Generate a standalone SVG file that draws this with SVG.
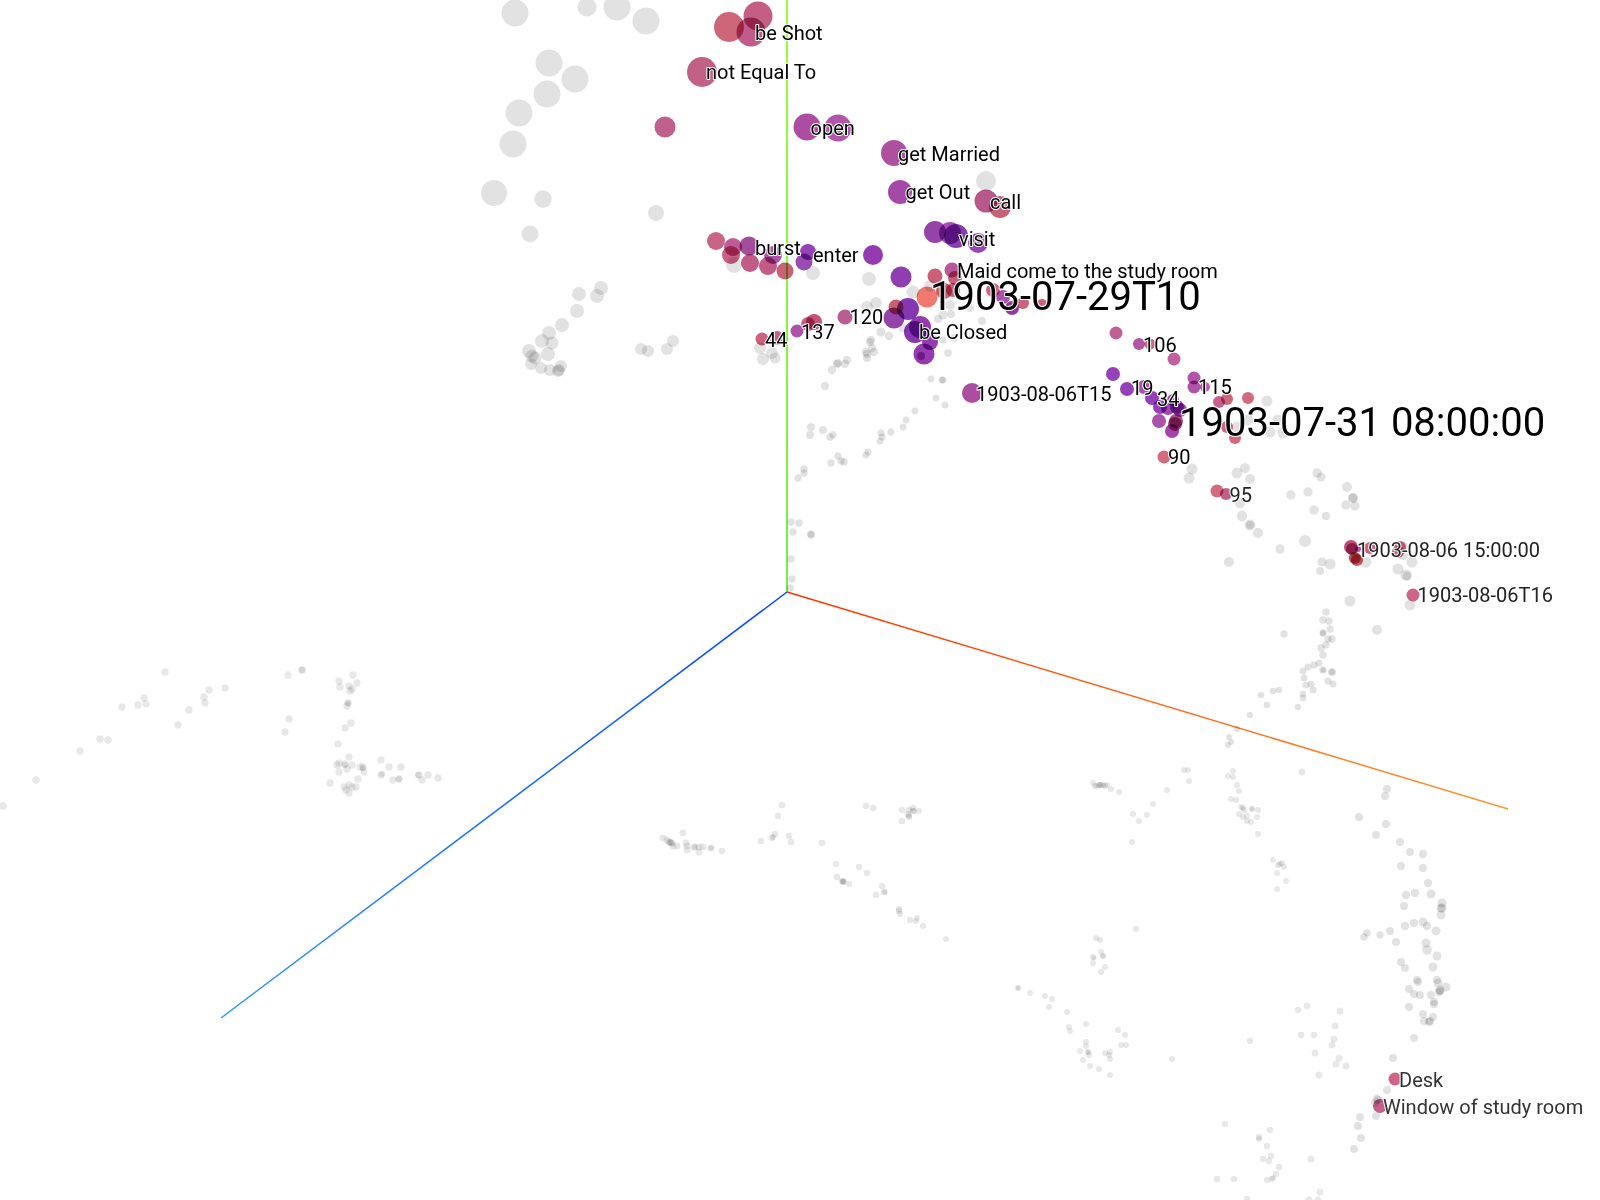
<svg xmlns="http://www.w3.org/2000/svg" width="1600" height="1200" viewBox="0 0 1600 1200">
<style>
circle{mix-blend-mode:multiply}
.g circle{fill:#e2e2e2}
.f circle{fill:#e8e8e8}
#points circle{fill-opacity:.9}
.lb{font-family:Roboto,"Liberation Sans",sans-serif;font-size:20px;fill:#000;stroke:#fff;stroke-width:2px;paint-order:stroke;stroke-linejoin:round}
.big{font-size:40px}
.d1{fill:#222}
.d2{fill:#333}
</style>
<defs>
<linearGradient id="gy" gradientUnits="userSpaceOnUse" x1="787" y1="592" x2="787" y2="0"><stop offset="0" stop-color="#70f048"/><stop offset="1" stop-color="#99ff33"/></linearGradient>
<linearGradient id="gx" gradientUnits="userSpaceOnUse" x1="787" y1="592" x2="1508" y2="809"><stop offset="0" stop-color="#ff3300"/><stop offset="1" stop-color="#ff9933"/></linearGradient>
<linearGradient id="gz" gradientUnits="userSpaceOnUse" x1="787" y1="592" x2="221" y2="1018"><stop offset="0" stop-color="#0044ff"/><stop offset="1" stop-color="#3399ff"/></linearGradient>
</defs>
<rect width="1600" height="1200" fill="#fff"/>
<g id="connectors" fill="none" stroke-width="1.5">
<line x1="787" y1="592" x2="787.01" y2="0" stroke="url(#gy)" stroke-width="2"/>
<line x1="787" y1="592" x2="1508" y2="809" stroke="url(#gx)"/>
<line x1="787" y1="592" x2="221" y2="1018" stroke="url(#gz)"/>
</g>
<g id="background-points-near" class="g">
<circle cx="515" cy="13" r="13.5"/><circle cx="587" cy="7" r="9.5"/><circle cx="617" cy="7" r="13.5"/><circle cx="646" cy="21" r="13.5"/><circle cx="549" cy="63" r="13.5"/><circle cx="575" cy="79" r="13.5"/><circle cx="547" cy="94" r="13.5"/><circle cx="519" cy="113" r="13.5"/><circle cx="513" cy="144" r="13.5"/><circle cx="494" cy="193" r="13"/><circle cx="543" cy="199" r="8.7"/><circle cx="530" cy="234" r="8.5"/><circle cx="656" cy="213" r="8"/><circle cx="986" cy="181" r="10"/>
<circle cx="734" cy="265" r="8"/><circle cx="813" cy="273" r="7"/><circle cx="869" cy="279" r="7"/>
<circle cx="579" cy="294" r="7"/><circle cx="601" cy="288" r="7"/><circle cx="597" cy="296" r="7"/><circle cx="577" cy="311" r="7"/><circle cx="562" cy="325" r="7"/><circle cx="549" cy="333" r="7"/><circle cx="542" cy="341" r="7"/><circle cx="552" cy="343" r="6.5"/><circle cx="529" cy="351" r="7"/><circle cx="548" cy="354" r="7"/><circle cx="532" cy="356" r="6.5"/><circle cx="535" cy="358" r="6.5"/><circle cx="531" cy="364" r="6"/><circle cx="541" cy="368" r="6"/><circle cx="550" cy="370" r="6"/><circle cx="561" cy="366" r="6"/><circle cx="558" cy="371" r="6"/><circle cx="559" cy="370" r="6"/>
<circle cx="641" cy="349" r="6"/><circle cx="648" cy="351" r="6"/><circle cx="667" cy="349" r="6"/><circle cx="673" cy="341" r="6"/><circle cx="760" cy="348" r="6"/><circle cx="772" cy="353" r="6"/><circle cx="763" cy="359" r="6"/><circle cx="775" cy="358" r="5.5"/>
<circle cx="867" cy="307" r="6"/><circle cx="876" cy="303" r="6"/><circle cx="913" cy="292" r="6.5"/><circle cx="930" cy="286" r="6"/>
<circle cx="943" cy="315" r="4.5"/><circle cx="951" cy="314" r="4"/><circle cx="950" cy="305" r="5"/><circle cx="970" cy="308" r="4"/><circle cx="982" cy="321" r="4"/><circle cx="938" cy="319" r="4"/><circle cx="903" cy="328" r="4.5"/><circle cx="881" cy="332" r="4.5"/><circle cx="889" cy="336" r="4.2"/><circle cx="871" cy="340" r="4.2"/><circle cx="870" cy="342" r="4"/><circle cx="872" cy="348" r="4.2"/><circle cx="866" cy="352" r="4.2"/><circle cx="867" cy="354" r="4.2"/><circle cx="874" cy="352" r="4.2"/><circle cx="867" cy="358" r="4"/><circle cx="847" cy="360" r="4"/><circle cx="838" cy="363" r="4.2"/><circle cx="837" cy="364" r="4"/><circle cx="845" cy="364" r="4"/><circle cx="832" cy="370" r="4.2"/><circle cx="825" cy="386" r="4.2"/>
<circle cx="943" cy="340" r="3.8"/><circle cx="948" cy="353" r="3.8"/><circle cx="954" cy="338" r="3.8"/><circle cx="931" cy="379" r="3.5"/><circle cx="942" cy="380" r="3.5"/><circle cx="943" cy="380" r="3.5"/><circle cx="936" cy="398" r="3.5"/><circle cx="945" cy="405" r="3.5"/><circle cx="915" cy="411" r="3.5"/><circle cx="906" cy="420" r="3.5"/><circle cx="903" cy="427" r="3.5"/><circle cx="891" cy="432" r="3.5"/><circle cx="881" cy="433" r="3.5"/><circle cx="882" cy="437" r="3.5"/><circle cx="880" cy="441" r="3.5"/><circle cx="868" cy="452" r="3.5"/><circle cx="866" cy="455" r="3.5"/>
<circle cx="811" cy="427" r="4"/><circle cx="810" cy="435" r="4"/><circle cx="823" cy="430" r="4"/><circle cx="830" cy="437" r="3.7"/><circle cx="833" cy="435" r="3.7"/><circle cx="838" cy="456" r="3.7"/><circle cx="831" cy="463" r="3.7"/><circle cx="841" cy="461" r="3.7"/><circle cx="844" cy="462" r="3.7"/><circle cx="804" cy="469" r="3.7"/><circle cx="804" cy="473" r="3.7"/><circle cx="798" cy="478" r="3.7"/><circle cx="791" cy="522" r="3.7"/><circle cx="799" cy="523" r="3.7"/><circle cx="793" cy="532" r="3.7"/><circle cx="811" cy="534" r="3.7"/><circle cx="811" cy="535" r="3.7"/><circle cx="791" cy="559" r="3.7"/><circle cx="792" cy="579" r="3.7"/><circle cx="790" cy="588" r="3.7"/>
<circle cx="1267" cy="401" r="5.5"/><circle cx="1248" cy="420" r="5.5"/><circle cx="1278" cy="420" r="5.5"/><circle cx="1270" cy="432" r="5.5"/><circle cx="1283" cy="433" r="5.5"/><circle cx="1237" cy="427" r="5.5"/>
<circle cx="1192" cy="469" r="5.5"/><circle cx="1189" cy="478" r="5.5"/><circle cx="1237" cy="473" r="5.5"/><circle cx="1245" cy="468" r="5"/><circle cx="1250" cy="479" r="5"/><circle cx="1317" cy="473" r="4.7"/><circle cx="1321" cy="477" r="4.5"/><circle cx="1291" cy="495" r="4.7"/><circle cx="1308" cy="492" r="4.7"/><circle cx="1347" cy="487" r="5"/><circle cx="1353" cy="498" r="5"/><circle cx="1353" cy="498" r="4.5"/><circle cx="1346" cy="505" r="4.7"/><circle cx="1355" cy="506" r="4.7"/><circle cx="1314" cy="510" r="4.7"/><circle cx="1326" cy="516" r="4.2"/><circle cx="1240" cy="503" r="5.2"/><circle cx="1242" cy="516" r="5.4"/><circle cx="1250" cy="525" r="5.5"/><circle cx="1250" cy="525" r="4"/><circle cx="1258" cy="533" r="5"/><circle cx="1305" cy="541" r="6"/><circle cx="1280" cy="549" r="4.7"/><circle cx="1229" cy="562" r="5"/><circle cx="1322" cy="562" r="4.5"/><circle cx="1330" cy="564" r="5.5"/><circle cx="1320" cy="571" r="4"/><circle cx="1366" cy="562" r="5.5"/><circle cx="1353" cy="557" r="5.5"/><circle cx="1412" cy="562" r="5.5"/><circle cx="1398" cy="569" r="5.5"/><circle cx="1406" cy="575" r="5.5"/><circle cx="1407" cy="576" r="4.5"/><circle cx="1403" cy="547" r="5"/><circle cx="1403" cy="555" r="5"/><circle cx="1410" cy="605" r="5.5"/><circle cx="1350" cy="601" r="5.5"/><circle cx="1377" cy="630" r="5"/>
<circle cx="1326" cy="612" r="3.7"/><circle cx="1323" cy="620" r="3.7"/><circle cx="1329" cy="621" r="3.7"/><circle cx="1330" cy="629" r="3.7"/><circle cx="1323" cy="633" r="3.7"/><circle cx="1323" cy="633" r="3"/><circle cx="1284" cy="634" r="3.7"/><circle cx="1328" cy="639" r="3.7"/><circle cx="1332" cy="639" r="3.7"/><circle cx="1326" cy="645" r="3.7"/><circle cx="1321" cy="648" r="3.7"/><circle cx="1323" cy="655" r="3.7"/><circle cx="1319" cy="663" r="3.5"/><circle cx="1314" cy="665" r="3.5"/><circle cx="1308" cy="667" r="3.5"/><circle cx="1303" cy="671" r="3.5"/><circle cx="1323" cy="670" r="3.7"/><circle cx="1323" cy="670" r="2.5"/><circle cx="1332" cy="672" r="4"/><circle cx="1332" cy="672" r="3"/><circle cx="1304" cy="678" r="3.5"/><circle cx="1328" cy="681" r="3.5"/><circle cx="1333" cy="684" r="3.5"/><circle cx="1311" cy="684" r="3.5"/><circle cx="1306" cy="685" r="3.5"/><circle cx="1313" cy="690" r="3.5"/><circle cx="1303" cy="694" r="3.3"/><circle cx="1303" cy="698" r="3.3"/><circle cx="1298" cy="707" r="3.3"/><circle cx="1279" cy="690" r="3.3"/><circle cx="1273" cy="691" r="3.3"/><circle cx="1261" cy="695" r="3.3"/><circle cx="1267" cy="705" r="3.3"/><circle cx="1250" cy="715" r="3.3"/><circle cx="1237" cy="729" r="3"/><circle cx="1229" cy="737" r="3"/>
<circle cx="1231" cy="742" r="3"/><circle cx="1228" cy="745" r="3"/>
<circle cx="1387" cy="789" r="4"/><circle cx="1385" cy="796" r="4"/><circle cx="1359" cy="817" r="4"/><circle cx="1386" cy="824" r="4"/><circle cx="1376" cy="835" r="4"/><circle cx="1400" cy="842" r="4"/><circle cx="1410" cy="852" r="4"/><circle cx="1423" cy="854" r="4.2"/><circle cx="1401" cy="866" r="4.2"/><circle cx="1423" cy="868" r="4.2"/><circle cx="1428" cy="883" r="4.2"/><circle cx="1406" cy="895" r="4.2"/><circle cx="1415" cy="893" r="4.2"/><circle cx="1431" cy="894" r="4.5"/><circle cx="1442" cy="903" r="4.5"/><circle cx="1442" cy="908" r="4.5"/><circle cx="1441" cy="908" r="4.5"/><circle cx="1441" cy="915" r="4.5"/><circle cx="1404" cy="906" r="4.2"/><circle cx="1405" cy="926" r="4.2"/><circle cx="1414" cy="923" r="4.2"/><circle cx="1423" cy="922" r="4.5"/><circle cx="1427" cy="926" r="4.2"/><circle cx="1436" cy="931" r="4.5"/><circle cx="1390" cy="931" r="4"/><circle cx="1380" cy="935" r="3.7"/><circle cx="1367" cy="933" r="3.7"/><circle cx="1364" cy="937" r="3.7"/><circle cx="1396" cy="942" r="4"/><circle cx="1426" cy="943" r="4.5"/><circle cx="1427" cy="950" r="4.8"/><circle cx="1437" cy="956" r="4.5"/><circle cx="1401" cy="962" r="4"/><circle cx="1405" cy="968" r="4"/><circle cx="1433" cy="967" r="4.5"/><circle cx="1417" cy="980" r="4"/><circle cx="1437" cy="980" r="4.2"/>
<circle cx="1438" cy="983" r="4.5"/><circle cx="1418" cy="982" r="4"/><circle cx="1446" cy="987" r="4.5"/><circle cx="1440" cy="990" r="4.5"/><circle cx="1440" cy="991" r="4"/><circle cx="1439" cy="992" r="4"/><circle cx="1409" cy="989" r="4"/><circle cx="1414" cy="994" r="4"/><circle cx="1420" cy="995" r="4"/><circle cx="1431" cy="995" r="4.2"/><circle cx="1434" cy="1002" r="4"/><circle cx="1434" cy="1004" r="4"/><circle cx="1409" cy="1007" r="4"/><circle cx="1423" cy="1014" r="4"/><circle cx="1433" cy="1017" r="4"/><circle cx="1424" cy="1021" r="4"/><circle cx="1430" cy="1021" r="4"/><circle cx="1429" cy="1022" r="4"/><circle cx="1414" cy="1038" r="4"/><circle cx="1393" cy="1058" r="4"/><circle cx="1387" cy="1090" r="4"/><circle cx="1377" cy="1099" r="4.5"/><circle cx="1378" cy="1100" r="4"/><circle cx="1375" cy="1103" r="4"/><circle cx="1376" cy="1116" r="4"/><circle cx="1360" cy="1117" r="4"/><circle cx="1358" cy="1126" r="4"/><circle cx="1361" cy="1138" r="4"/><circle cx="1354" cy="1149" r="4"/>
</g>
<g id="background-points-far" class="f">
<circle cx="165" cy="672" r="3.7"/><circle cx="288" cy="675" r="3.7"/><circle cx="302" cy="670" r="3.7"/><circle cx="302" cy="670" r="3.2"/><circle cx="353" cy="675" r="3.7"/><circle cx="339" cy="681" r="3.7"/><circle cx="357" cy="683" r="3.7"/><circle cx="340" cy="687" r="3.7"/><circle cx="349" cy="686" r="3.7"/><circle cx="352" cy="689" r="3.7"/><circle cx="350" cy="691" r="3.7"/><circle cx="348" cy="703" r="3.7"/><circle cx="348" cy="703" r="3"/><circle cx="347" cy="706" r="3.7"/><circle cx="225" cy="688" r="3.7"/><circle cx="209" cy="690" r="3.7"/><circle cx="204" cy="697" r="3.7"/><circle cx="205" cy="703" r="3.7"/><circle cx="189" cy="710" r="3.7"/><circle cx="178" cy="725" r="3.7"/><circle cx="144" cy="698" r="3.7"/><circle cx="138" cy="705" r="3.7"/><circle cx="146" cy="704" r="3.7"/><circle cx="122" cy="707" r="3.7"/><circle cx="100" cy="739" r="3.7"/><circle cx="108" cy="740" r="3.7"/><circle cx="80" cy="751" r="3.7"/><circle cx="36" cy="780" r="3.7"/><circle cx="3" cy="806" r="3.7"/>
<circle cx="289" cy="719" r="3.7"/><circle cx="285" cy="732" r="3.7"/><circle cx="351" cy="723" r="3.7"/><circle cx="345" cy="728" r="3.7"/><circle cx="338" cy="744" r="3.7"/><circle cx="349" cy="757" r="3.7"/><circle cx="339" cy="763" r="3.7"/><circle cx="337" cy="765" r="3.7"/><circle cx="345" cy="764" r="3.7"/><circle cx="345" cy="765" r="3"/><circle cx="352" cy="765" r="3.7"/><circle cx="339" cy="772" r="3.7"/><circle cx="347" cy="769" r="3.7"/><circle cx="360" cy="767" r="3.7"/><circle cx="363" cy="767" r="3.7"/><circle cx="363" cy="768" r="3"/><circle cx="364" cy="772" r="3.5"/><circle cx="381" cy="760" r="3.7"/><circle cx="389" cy="767" r="3.7"/><circle cx="401" cy="767" r="3.7"/><circle cx="381" cy="775" r="3.7"/><circle cx="382" cy="774" r="3"/><circle cx="393" cy="780" r="3.7"/><circle cx="399" cy="779" r="3.7"/><circle cx="399" cy="779" r="3"/><circle cx="419" cy="775" r="3.7"/><circle cx="418" cy="775" r="3"/><circle cx="428" cy="775" r="3.7"/><circle cx="422" cy="780" r="3.7"/><circle cx="438" cy="778" r="3.7"/><circle cx="358" cy="779" r="3.7"/><circle cx="330" cy="783" r="3.7"/><circle cx="344" cy="787" r="3.7"/><circle cx="349" cy="785" r="3.7"/><circle cx="352" cy="787" r="3.7"/><circle cx="356" cy="787" r="3.7"/><circle cx="346" cy="790" r="3.7"/><circle cx="349" cy="793" r="3.7"/>
<circle cx="663" cy="838" r="3.5"/><circle cx="667" cy="840" r="3.5"/><circle cx="669" cy="842" r="3.5"/><circle cx="670" cy="842" r="3.5"/><circle cx="671" cy="843" r="3.5"/><circle cx="672" cy="843" r="3.5"/><circle cx="673" cy="846" r="3.5"/><circle cx="677" cy="846" r="3.5"/><circle cx="683" cy="833" r="3.5"/><circle cx="686" cy="843" r="3.5"/><circle cx="687" cy="846" r="3.5"/><circle cx="687" cy="850" r="3.5"/><circle cx="694" cy="847" r="3.5"/><circle cx="695" cy="847" r="3"/><circle cx="699" cy="847" r="3.5"/><circle cx="699" cy="852" r="3.5"/><circle cx="703" cy="847" r="3.5"/><circle cx="711" cy="848" r="3.5"/><circle cx="711" cy="848" r="2.8"/><circle cx="722" cy="851" r="3.3"/>
<circle cx="782" cy="805" r="3.3"/><circle cx="778" cy="816" r="3.3"/><circle cx="761" cy="841" r="3.3"/><circle cx="772" cy="838" r="3.3"/><circle cx="773" cy="837" r="3"/><circle cx="775" cy="834" r="3.3"/><circle cx="789" cy="836" r="3.3"/><circle cx="791" cy="842" r="3.3"/><circle cx="822" cy="843" r="3.3"/><circle cx="866" cy="806" r="3.3"/><circle cx="873" cy="808" r="3.3"/><circle cx="902" cy="810" r="3.3"/><circle cx="909" cy="810" r="3.3"/><circle cx="913" cy="808" r="3.3"/><circle cx="913" cy="811" r="3.3"/><circle cx="914" cy="811" r="3"/><circle cx="919" cy="811" r="3"/><circle cx="908" cy="814" r="3.3"/><circle cx="909" cy="817" r="3.3"/><circle cx="909" cy="816" r="3"/><circle cx="902" cy="821" r="3.3"/>
<circle cx="836" cy="864" r="3.2"/><circle cx="859" cy="867" r="3.2"/><circle cx="867" cy="873" r="3.2"/><circle cx="837" cy="877" r="3.2"/><circle cx="842" cy="881" r="3.2"/><circle cx="843" cy="882" r="3.2"/><circle cx="843" cy="881" r="3"/><circle cx="844" cy="882" r="3"/><circle cx="849" cy="884" r="3.2"/><circle cx="882" cy="886" r="3.2"/><circle cx="884" cy="892" r="3.2"/><circle cx="885" cy="892" r="2.8"/><circle cx="876" cy="895" r="3.2"/><circle cx="899" cy="909" r="3.2"/><circle cx="899" cy="911" r="3.2"/><circle cx="900" cy="914" r="3"/><circle cx="910" cy="920" r="3.2"/><circle cx="916" cy="921" r="3"/><circle cx="917" cy="918" r="3"/><circle cx="923" cy="926" r="3"/><circle cx="946" cy="939" r="3"/><circle cx="1136" cy="929" r="3"/>
<circle cx="1093" cy="783" r="3"/><circle cx="1095" cy="786" r="3"/><circle cx="1097" cy="786" r="3"/><circle cx="1099" cy="785" r="3"/><circle cx="1100" cy="785" r="3"/><circle cx="1101" cy="785" r="3"/><circle cx="1103" cy="785" r="3"/><circle cx="1105" cy="786" r="3"/><circle cx="1107" cy="785" r="3"/><circle cx="1111" cy="789" r="3"/><circle cx="1119" cy="792" r="3"/>
<circle cx="1184" cy="770" r="3"/><circle cx="1188" cy="770" r="3"/><circle cx="1189" cy="781" r="3"/><circle cx="1167" cy="790" r="3"/><circle cx="1153" cy="804" r="3"/><circle cx="1133" cy="814" r="3"/><circle cx="1147" cy="815" r="3"/><circle cx="1139" cy="821" r="3"/><circle cx="1132" cy="842" r="3"/><circle cx="1302" cy="772" r="3.4"/><circle cx="1233" cy="771" r="3"/><circle cx="1228" cy="776" r="3"/><circle cx="1233" cy="777" r="3"/><circle cx="1237" cy="785" r="3"/><circle cx="1239" cy="791" r="3"/><circle cx="1231" cy="799" r="3"/><circle cx="1236" cy="800" r="3"/><circle cx="1241" cy="807" r="3"/><circle cx="1243" cy="808" r="3"/><circle cx="1252" cy="809" r="3"/><circle cx="1252" cy="809" r="2.5"/><circle cx="1258" cy="810" r="3"/><circle cx="1244" cy="810" r="3"/><circle cx="1239" cy="814" r="3"/><circle cx="1247" cy="816" r="3"/><circle cx="1257" cy="817" r="3"/><circle cx="1243" cy="817" r="3"/><circle cx="1247" cy="821" r="3"/><circle cx="1251" cy="822" r="3"/><circle cx="1258" cy="834" r="3"/>
<circle cx="1273" cy="860" r="3"/><circle cx="1282" cy="863" r="3"/><circle cx="1278" cy="865" r="3"/><circle cx="1280" cy="864" r="3"/><circle cx="1284" cy="867" r="3"/><circle cx="1277" cy="873" r="3"/><circle cx="1286" cy="881" r="3"/><circle cx="1277" cy="889" r="3"/>
<circle cx="1096" cy="938" r="3"/><circle cx="1100" cy="940" r="3"/><circle cx="1101" cy="952" r="3"/><circle cx="1103" cy="956" r="3"/><circle cx="1103" cy="956" r="2.5"/><circle cx="1093" cy="957" r="3"/><circle cx="1094" cy="958" r="2.5"/><circle cx="1093" cy="963" r="3"/><circle cx="1105" cy="967" r="3"/><circle cx="1101" cy="972" r="3"/>
<circle cx="1018" cy="988" r="3"/><circle cx="1018" cy="988" r="2.4"/><circle cx="1030" cy="993" r="3"/><circle cx="1045" cy="996" r="3"/><circle cx="1052" cy="999" r="3"/><circle cx="1049" cy="1007" r="3"/><circle cx="1067" cy="1012" r="3"/><circle cx="1069" cy="1027" r="3"/><circle cx="1070" cy="1031" r="3"/><circle cx="1086" cy="1024" r="3"/><circle cx="1118" cy="1030" r="3"/><circle cx="1125" cy="1035" r="3"/><circle cx="1086" cy="1042" r="3"/><circle cx="1086" cy="1046" r="3"/><circle cx="1080" cy="1051" r="3"/><circle cx="1088" cy="1052" r="3"/><circle cx="1088" cy="1052" r="2.5"/><circle cx="1089" cy="1055" r="3"/><circle cx="1105" cy="1053" r="3"/><circle cx="1110" cy="1052" r="3"/><circle cx="1109" cy="1055" r="3"/><circle cx="1110" cy="1059" r="3"/><circle cx="1121" cy="1045" r="3"/><circle cx="1126" cy="1045" r="3"/><circle cx="1083" cy="1060" r="3"/><circle cx="1090" cy="1066" r="3"/><circle cx="1099" cy="1069" r="3"/><circle cx="1110" cy="1075" r="3"/><circle cx="1172" cy="1059" r="3"/><circle cx="1250" cy="1041" r="3.2"/>
<circle cx="1298" cy="1010" r="3.2"/><circle cx="1307" cy="1006" r="3.4"/><circle cx="1340" cy="1011" r="3.5"/><circle cx="1335" cy="1026" r="3.5"/><circle cx="1334" cy="1039" r="3.5"/><circle cx="1332" cy="1045" r="3.5"/><circle cx="1301" cy="1035" r="3.3"/><circle cx="1314" cy="1035" r="3.3"/><circle cx="1315" cy="1053" r="3.4"/><circle cx="1339" cy="1058" r="3.5"/><circle cx="1336" cy="1064" r="3.5"/><circle cx="1346" cy="1066" r="3.5"/><circle cx="1319" cy="1075" r="3.5"/>
<circle cx="1225" cy="1124" r="3.2"/><circle cx="1259" cy="1137" r="3.2"/><circle cx="1259" cy="1139" r="3"/><circle cx="1270" cy="1130" r="3.2"/><circle cx="1267" cy="1146" r="3.2"/><circle cx="1263" cy="1159" r="3.2"/><circle cx="1269" cy="1161" r="3.2"/><circle cx="1271" cy="1156" r="3.2"/><circle cx="1279" cy="1167" r="3.2"/><circle cx="1276" cy="1174" r="3.2"/><circle cx="1272" cy="1179" r="3.2"/><circle cx="1273" cy="1178" r="2.8"/><circle cx="1267" cy="1180" r="3.2"/><circle cx="1217" cy="1179" r="3.2"/><circle cx="1234" cy="1179" r="3.2"/><circle cx="1320" cy="1192" r="3.5"/><circle cx="1309" cy="1200" r="3.5"/><circle cx="1318" cy="1200" r="3.5"/><circle cx="1247" cy="1199" r="3.2"/><circle cx="1311" cy="1159" r="3.6"/>
</g>
<g id="points">
<circle cx="729" cy="27" r="15" fill="#c9556a"/><circle cx="758" cy="16" r="14.5" fill="#bd4c78"/><circle cx="751" cy="32" r="14.5" fill="#b84a7e"/>
<circle cx="702" cy="72" r="15" fill="#bd4f78"/><circle cx="665" cy="127" r="10.5" fill="#b94f80"/>
<circle cx="807" cy="127" r="13.5" fill="#a33a97"/><circle cx="838" cy="128" r="13.5" fill="#a844a0"/>
<circle cx="894" cy="153" r="13" fill="#a63c96"/><circle cx="900" cy="192" r="12" fill="#9b35a0"/>
<circle cx="986" cy="201" r="11.5" fill="#b0457f"/><circle cx="1000" cy="207" r="11" fill="#c05069"/>
<circle cx="935" cy="232" r="11" fill="#8a2ea0"/><circle cx="950" cy="233" r="11" fill="#9c3ab0"/><circle cx="956" cy="236" r="12" fill="#7a2aa5"/><circle cx="978" cy="243" r="10" fill="#9030b0"/>
<circle cx="716" cy="241" r="9" fill="#c4537a"/><circle cx="733" cy="247" r="9" fill="#b84a8a"/><circle cx="731" cy="255" r="9" fill="#c45075"/><circle cx="749" cy="246" r="9.5" fill="#9a3a90"/><circle cx="750" cy="263" r="9" fill="#bb4a7a"/><circle cx="768" cy="266" r="9" fill="#bd4a78"/><circle cx="785" cy="271" r="8.5" fill="#c4506a"/><circle cx="773" cy="255" r="9" fill="#a040a0"/>
<circle cx="808" cy="252" r="8" fill="#8a2cb0"/><circle cx="804" cy="262" r="8.5" fill="#8f3aa8"/><circle cx="873" cy="255" r="10" fill="#8826a8"/><circle cx="901" cy="277" r="10.5" fill="#8428a8"/>
<circle cx="935" cy="276" r="7.5" fill="#c5506a"/><circle cx="952" cy="270" r="7.5" fill="#b04590"/><circle cx="955" cy="278" r="7" fill="#c0506a"/><circle cx="944" cy="291" r="8" fill="#c05060"/><circle cx="953" cy="290" r="7" fill="#c05575"/><circle cx="993" cy="290" r="7" fill="#c85578"/><circle cx="1003" cy="297" r="7" fill="#a040a0"/><circle cx="1012" cy="308" r="7" fill="#8a2090"/><circle cx="1023" cy="303" r="6" fill="#c85070"/><circle cx="1042" cy="305" r="6" fill="#c85070"/>
<circle cx="927" cy="297" r="10.5" fill="#ef6a60"/>
<circle cx="896" cy="307" r="7.5" fill="#c05060"/><circle cx="908" cy="309" r="11" fill="#7820a8"/><circle cx="894" cy="318" r="10.5" fill="#8a30a0"/><circle cx="920" cy="327" r="11" fill="#8826a8"/><circle cx="915" cy="332" r="11" fill="#7a20a8"/><circle cx="930" cy="342" r="8" fill="#8a25a8"/><circle cx="924" cy="354" r="10.5" fill="#8a25a8"/><circle cx="921" cy="356" r="4" fill="#b060b0"/>
<circle cx="845" cy="317" r="7.5" fill="#b04d8a"/><circle cx="814" cy="322" r="8" fill="#c0406a"/><circle cx="808" cy="324" r="7" fill="#c05078"/><circle cx="797" cy="331" r="6.5" fill="#a340a0"/><circle cx="762" cy="339" r="6.5" fill="#c85070"/><circle cx="777" cy="338" r="7" fill="#c05080"/>
<circle cx="972" cy="393" r="10" fill="#a33a98"/>
<circle cx="1116" cy="333" r="6.5" fill="#b8508c"/><circle cx="1139" cy="344" r="6" fill="#a8459a"/><circle cx="1150" cy="344" r="5.5" fill="#c8556e"/><circle cx="1174" cy="359" r="6.5" fill="#bb5090"/>
<circle cx="1113" cy="374" r="7" fill="#8a2cb0"/><circle cx="1127" cy="389" r="7" fill="#8a2cb0"/><circle cx="1144" cy="387" r="7" fill="#a040a8"/><circle cx="1152" cy="398" r="7" fill="#8a2cb0"/><circle cx="1160" cy="407" r="7" fill="#8a2cb0"/><circle cx="1168" cy="408" r="7" fill="#9a35a8"/><circle cx="1177" cy="407" r="7" fill="#8a2cb0"/><circle cx="1180" cy="410" r="7" fill="#9a35a8"/><circle cx="1173" cy="400" r="6" fill="#9a35a8"/>
<circle cx="1159" cy="421" r="7" fill="#a040a0"/><circle cx="1176" cy="421" r="7" fill="#a04080"/><circle cx="1175" cy="424" r="7" fill="#a03a78"/><circle cx="1172" cy="431" r="7" fill="#9a30a0"/>
<circle cx="1194" cy="378" r="6.5" fill="#a840a0"/><circle cx="1194" cy="387" r="6.5" fill="#a840a0"/><circle cx="1205" cy="387" r="5" fill="#b050a0"/>
<circle cx="1219" cy="402" r="6" fill="#c04f85"/><circle cx="1227" cy="399" r="6" fill="#c9556e"/><circle cx="1248" cy="398" r="6" fill="#cf5a70"/><circle cx="1227" cy="427" r="6" fill="#c8557a"/><circle cx="1235" cy="438" r="6" fill="#d05a70"/>
<circle cx="1164" cy="457" r="6.5" fill="#cf5a70"/><circle cx="1217" cy="491" r="6.5" fill="#cf5a70"/><circle cx="1226" cy="494" r="6" fill="#b85078"/>
<circle cx="1351" cy="547" r="7" fill="#b8386a"/><circle cx="1352" cy="549" r="6" fill="#b04a90"/><circle cx="1358" cy="549" r="3" fill="#b040a0"/><circle cx="1355" cy="558" r="6" fill="#c04050"/><circle cx="1357" cy="560" r="6" fill="#c04a50"/>
<circle cx="1370" cy="548" r="6" fill="#cc5070"/><circle cx="1400" cy="547" r="6" fill="#cc5070"/><circle cx="1398" cy="552" r="6" fill="#cc5070"/>
<circle cx="1413" cy="595" r="6.5" fill="#c9557c"/>
<circle cx="1395" cy="1079" r="6.5" fill="#c9557c"/><circle cx="1380" cy="1106" r="7" fill="#c04f80"/>
</g>
<g id="labels" class="lb">
<text id="n-be-shot" x="755" y="40">be Shot</text>
<text id="n-not-equal-to" x="706" y="79">not Equal To</text>
<text id="n-open" x="810.5" y="135">open</text>
<text id="n-get-married" x="898" y="161">get Married</text>
<text id="n-get-out" x="905.5" y="199">get Out</text>
<text id="n-call" x="990" y="209">call</text>
<text id="n-visit" x="959" y="246">visit</text>
<text id="n-burst" x="755" y="255">burst</text>
<text id="n-enter" x="813" y="262">enter</text>
<text id="n-maid" x="957" y="278">Maid come to the study room</text>
<text id="n-date-29" class="big" x="930" y="310">1903-07-29T10</text>
<text id="n-120" x="849.5" y="324">120</text>
<text id="n-137" x="801" y="339">137</text>
<text id="n-44" x="765" y="347">44</text>
<text id="n-be-closed" x="919" y="339">be Closed</text>
<text id="n-t15" x="976" y="401">1903-08-06T15</text>
<text id="n-106" x="1143" y="352">106</text>
<text id="n-19" x="1131" y="395">19</text>
<text id="n-34" x="1157" y="406">34</text>
<text id="n-115" x="1198" y="394">115</text>
<text id="n-date-31" class="big" x="1179" y="436">1903-07-31 08:00:00</text>
<text id="n-90" x="1168" y="464">90</text>
<text id="n-95" class="d1" x="1229.5" y="502">95</text>
<text id="n-date-06" class="d1" x="1357" y="557">1903-08-06 15:00:00</text>
<text id="n-t16" class="d1" x="1417.5" y="602">1903-08-06T16</text>
<text id="n-desk" class="d2" x="1399" y="1087">Desk</text>
<text id="n-window" class="d2" x="1383" y="1114">Window of study room</text>
</g>
</svg>
